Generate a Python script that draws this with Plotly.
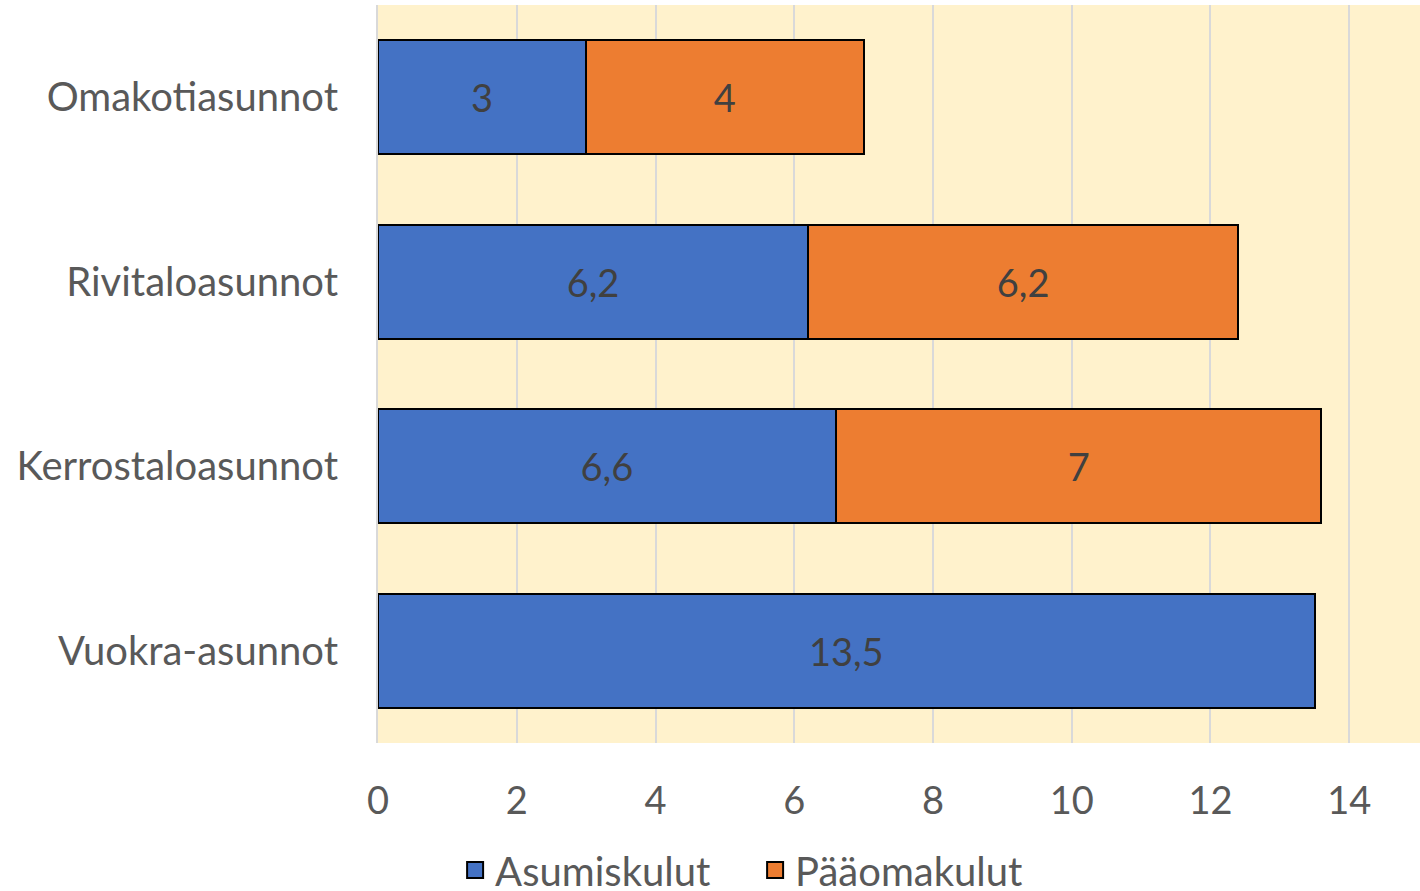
import plotly.graph_objects as go

categories = ["Omakotiasunnot", "Rivitaloasunnot", "Kerrostaloasunnot", "Vuokra-asunnot"]
asumiskulut = [3, 6.2, 6.6, 13.5]
paaomakulut = [4, 6.2, 7, None]
x_ticks = [0, 2, 4, 6, 8, 10, 12, 14]

FONT = "Lato"
BLUE = "#4472C4"
ORANGE = "#ED7D31"


def fi(values):
    # Finnish decimal comma
    return ["" if v is None else str(v).replace(".", ",") for v in values]


fig = go.Figure()
for name, vals, col in [("Asumiskulut", asumiskulut, BLUE), ("Pääomakulut", paaomakulut, ORANGE)]:
    fig.add_trace(go.Bar(
        y=categories, x=vals, name=name, orientation="h", showlegend=False,
        marker_color=col, marker_line_color="black", marker_line_width=2,
        text=fi(vals), textposition="inside", insidetextanchor="middle",
        textfont=dict(family=FONT, size=38, color="#404040"),
    ))
    # legend entry with a bigger square
    fig.add_trace(go.Scatter(
        x=[None], y=[None], mode="markers", name=name,
        marker=dict(symbol="square", size=22, color=col, line=dict(color="black", width=2)),
    ))

fig.update_layout(
    barmode="stack",
    bargap=0.38,
    width=1420, height=891,
    margin=dict(l=378, r=0, t=5, b=148, autoexpand=False),
    plot_bgcolor="#FFF2CC",
    paper_bgcolor="white",
    font=dict(family=FONT, size=38, color="#595959"),
    uniformtext=dict(minsize=38, mode="show"),
    legend=dict(
        orientation="h", x=0.074, xanchor="left", y=-0.172, yanchor="middle",
        font=dict(family=FONT, size=40, color="#595959"),
        traceorder="normal", itemwidth=30, itemsizing="trace", entrywidth=255,
    ),
)
fig.update_xaxes(
    range=[0, 15.02], tickvals=x_ticks, showgrid=True, gridcolor="#D9D9D9",
    gridwidth=2, zeroline=False, showline=False, ticklabelstandoff=32,
    tickfont=dict(size=38),
)
fig.update_yaxes(
    autorange="reversed", showgrid=False, showline=True, linecolor="#D9D9D9",
    linewidth=2, ticklabelstandoff=30, tickfont=dict(size=40),
)

fig.write_html(
    "out.html",
    config={"displayModeBar": False},
    post_script="document.body.style.margin='0';",
)
